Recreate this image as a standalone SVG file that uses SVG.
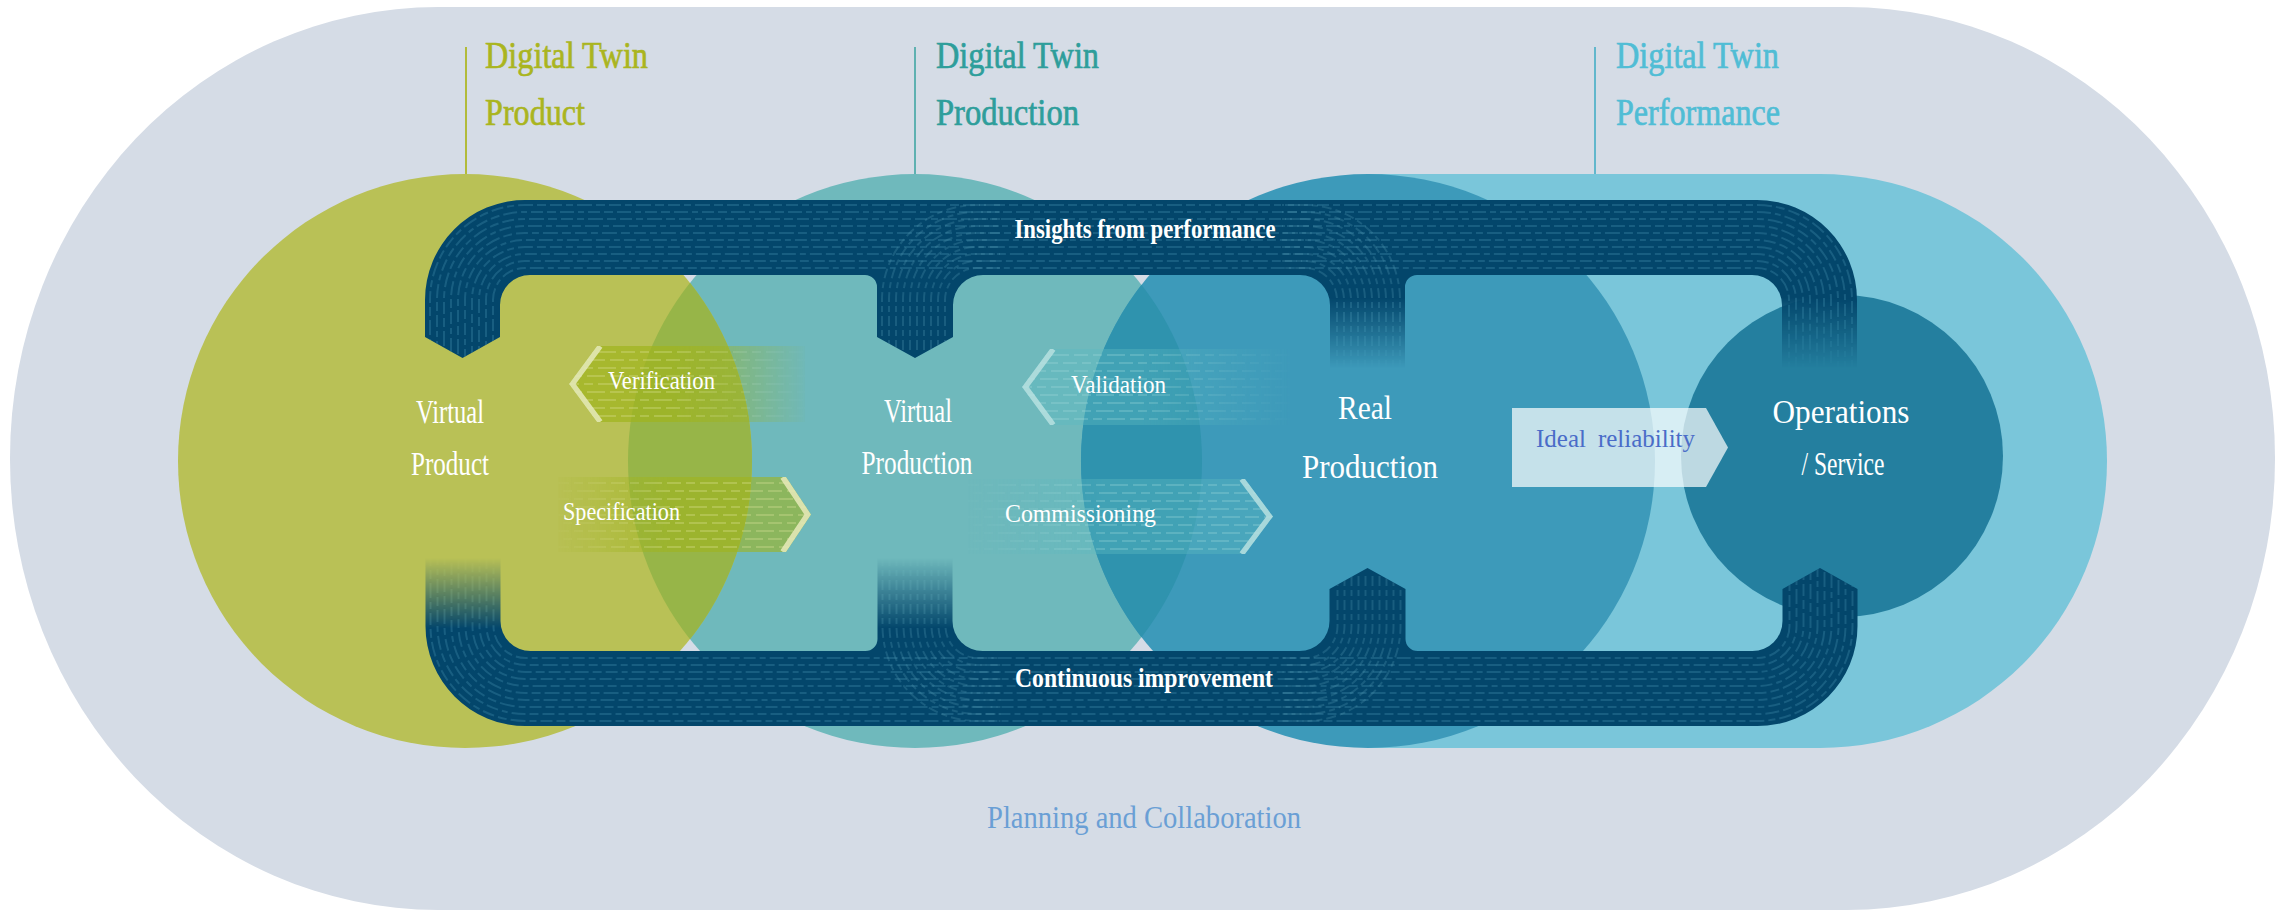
<svg xmlns="http://www.w3.org/2000/svg" width="2282" height="913" viewBox="0 0 2282 913">
<style>
.f{font-family:"Liberation Serif","DejaVu Serif",serif}
.dt{font-size:38px;stroke-width:0.7px}
.nd{font-size:33px;fill:#fff}
.bd{font-size:28px;fill:#fff;font-weight:bold}
.bn{font-size:26px;fill:#fff}
.tex{fill:none;stroke:#3c86a5;stroke-width:2;stroke-opacity:0.38}
.ra{stroke-dasharray:12 4 7 4 15 4 9 4}
.rb{stroke-dasharray:9 4 14 4 6 4 12 4}
.gh{fill:none;stroke:#5aa2bd;stroke-width:2;stroke-opacity:0.25;stroke-dasharray:10 4 6 4}
.btg{fill:none;stroke:#dfe69c;stroke-width:2;stroke-opacity:0.3;stroke-dasharray:14 5 9 5 18 5}
.btt{fill:none;stroke:#a6dcdc;stroke-width:2;stroke-opacity:0.28;stroke-dasharray:14 5 9 5 18 5}
.edg{fill:none;stroke:#e3e8b6;stroke-width:6;stroke-opacity:0.9}
.edt{fill:none;stroke:#b9e0e1;stroke-width:6;stroke-opacity:0.85}
</style>
<defs>
<linearGradient id="vFade" x1="0" y1="0" x2="0" y2="1"><stop offset="0" stop-color="#fff"/><stop offset="1" stop-color="#fff" stop-opacity="0"/></linearGradient>
<linearGradient id="fadeR" x1="0" y1="0" x2="1" y2="0"><stop offset="0.45" stop-color="#fff"/><stop offset="1" stop-color="#fff" stop-opacity="0"/></linearGradient>
<linearGradient id="fadeL" x1="0" y1="0" x2="1" y2="0"><stop offset="0" stop-color="#fff" stop-opacity="0"/><stop offset="0.45" stop-color="#fff"/></linearGradient>
<path id="bandPath" d="M425,337 V300 A100,100 0 0 1 525,200 H1757 A100,100 0 0 1 1857,300 V370 H1782 V305 A30,30 0 0 0 1752,275 H1417 A12,12 0 0 0 1405,287 V370 H1330 V305 A30,30 0 0 0 1300,275 H983 A30,30 0 0 0 953,305 V337 L915,358 L877,337 V287 A12,12 0 0 0 865,275 H530 A30,30 0 0 0 500,305 V337 L462.5,358 Z"/>
<clipPath id="bandClip"><use href="#bandPath"/></clipPath>
<mask id="bandMask" maskUnits="userSpaceOnUse" x="0" y="0" width="2282" height="913">
<rect x="0" y="0" width="2282" height="298" fill="#fff"/>
<rect x="0" y="298" width="1320" height="615" fill="#fff"/>
<rect x="1320" y="298" width="560" height="70" fill="url(#vFade)"/>
</mask>
<g id="band" mask="url(#bandMask)">
<use href="#bandPath" fill="#03466b"/>
<g clip-path="url(#bandClip)">
<g class="tex">
<path class="ra" d="M430,362V300A95,95 0 0 1 525,205H1757A95,95 0 0 1 1852,300V370"/>
<path class="rb" style="stroke-dashoffset:6" d="M437,362V300A88,88 0 0 1 525,212H1757A88,88 0 0 1 1845,300V370"/>
<path class="ra" style="stroke-dashoffset:11" d="M444,362V300A81,81 0 0 1 525,219H1757A81,81 0 0 1 1838,300V370"/>
<path class="rb" style="stroke-dashoffset:3" d="M451,362V300A74,74 0 0 1 525,226H1757A74,74 0 0 1 1831,300V370"/>
<path class="ra" style="stroke-dashoffset:19" d="M458,362V300A67,67 0 0 1 525,233H1757A67,67 0 0 1 1824,300V370"/>
<path class="rb" style="stroke-dashoffset:14" d="M465,362V300A60,60 0 0 1 525,240H1757A60,60 0 0 1 1817,300V370"/>
<path class="ra" style="stroke-dashoffset:7" d="M472,362V300A53,53 0 0 1 525,247H1757A53,53 0 0 1 1810,300V370"/>
<path class="rb" style="stroke-dashoffset:21" d="M479,362V300A46,46 0 0 1 525,254H1757A46,46 0 0 1 1803,300V370"/>
<path class="ra" style="stroke-dashoffset:2" d="M486,362V300A39,39 0 0 1 525,261H1757A39,39 0 0 1 1796,300V370"/>
<path class="rb" style="stroke-dashoffset:10" d="M493,362V300A32,32 0 0 1 525,268H1757A32,32 0 0 1 1789,300V370"/>
</g>
<g class="gh">
<path d="M882,350V300A95,95 0 0 1 977,205H1000"/>
<path d="M889,350V300A88,88 0 0 1 977,212H1000"/>
<path d="M896,350V300A81,81 0 0 1 977,219H1000"/>
<path d="M903,350V300A74,74 0 0 1 977,226H1000"/>
<path d="M910,350V300A67,67 0 0 1 977,233H1000"/>
<path d="M917,350V300A60,60 0 0 1 977,240H1000"/>
<path d="M924,350V300A53,53 0 0 1 977,247H1000"/>
<path d="M931,350V300A46,46 0 0 1 977,254H1000"/>
<path d="M938,350V300A39,39 0 0 1 977,261H1000"/>
<path d="M945,350V300A32,32 0 0 1 977,268H1000"/>
<path d="M1400,370V300A95,95 0 0 0 1305,205H1282"/>
<path d="M1393,370V300A88,88 0 0 0 1305,212H1282"/>
<path d="M1386,370V300A81,81 0 0 0 1305,219H1282"/>
<path d="M1379,370V300A74,74 0 0 0 1305,226H1282"/>
<path d="M1372,370V300A67,67 0 0 0 1305,233H1282"/>
<path d="M1365,370V300A60,60 0 0 0 1305,240H1282"/>
<path d="M1358,370V300A53,53 0 0 0 1305,247H1282"/>
<path d="M1351,370V300A46,46 0 0 0 1305,254H1282"/>
<path d="M1344,370V300A39,39 0 0 0 1305,261H1282"/>
<path d="M1337,370V300A32,32 0 0 0 1305,268H1282"/>
</g>
</g>
</g>
<clipPath id="cVer"><polygon points="597,346 805,346 805,422 597,422 569,384"/></clipPath>
<clipPath id="cSpe"><polygon points="558,477 786,477 811,514.5 786,552 558,552"/></clipPath>
<clipPath id="cVal"><polygon points="1050,349 1290,349 1290,425 1050,425 1022,387"/></clipPath>
<clipPath id="cCom"><polygon points="968,479 1245,479 1273,516.5 1245,554 968,554"/></clipPath>
<mask id="mVer" maskUnits="userSpaceOnUse" x="560" y="340" width="250" height="90"><rect x="560" y="340" width="250" height="90" fill="url(#fadeR)"/></mask>
<mask id="mSpe" maskUnits="userSpaceOnUse" x="550" y="470" width="265" height="90"><rect x="550" y="470" width="265" height="90" fill="url(#fadeL)"/></mask>
<mask id="mVal" maskUnits="userSpaceOnUse" x="1015" y="340" width="280" height="90"><rect x="1015" y="340" width="280" height="90" fill="url(#fadeR)"/></mask>
<mask id="mCom" maskUnits="userSpaceOnUse" x="960" y="470" width="320" height="90"><rect x="960" y="470" width="320" height="90" fill="url(#fadeL)"/></mask>
</defs>

<g id="background">
<rect x="10" y="7" width="2265" height="903" rx="428" ry="451" fill="#d5dce6"/>
</g>

<g id="node-performance-field">
<path d="M1368,174 H1820 A287,287 0 0 1 1820,748 H1368 Z" fill="#7ac6da"/>
</g>
<g id="node-virtual-production">
<circle cx="915" cy="461" r="287" fill="#6fb9bc"/>
</g>
<g id="node-virtual-product">
<circle cx="465" cy="461" r="287" fill="#b9c156"/>
</g>
<g id="node-real-production">
<circle cx="1368" cy="461" r="287" fill="#3d9aba"/>
</g>
<g id="overlaps">
<path d="M690,282.8 A287,287 0 0 1 690,639.2 A287,287 0 0 1 690,282.8 Z" fill="#97b548"/>
<path d="M1141.5,284.7 A287,287 0 0 1 1141.5,637.3 A287,287 0 0 1 1141.5,284.7 Z" fill="#2f93ae"/>
</g>
<g id="node-operations">
<circle cx="1842" cy="456" r="161" fill="#247f9f"/>
</g>

<g id="label-dt-product">
<line x1="466" y1="47" x2="466" y2="174" stroke="#b2bb3a" stroke-width="2"/>
<text class="f dt" x="485" y="68" fill="#aab51f" stroke="#aab51f" textLength="163" lengthAdjust="spacingAndGlyphs">Digital Twin</text>
<text class="f dt" x="485" y="125" fill="#aab51f" stroke="#aab51f" textLength="100" lengthAdjust="spacingAndGlyphs">Product</text>
</g>
<g id="label-dt-production">
<line x1="915" y1="47" x2="915" y2="174" stroke="#5fb1b1" stroke-width="2"/>
<text class="f dt" x="936" y="68" fill="#2e9e9b" stroke="#2e9e9b" textLength="163" lengthAdjust="spacingAndGlyphs">Digital Twin</text>
<text class="f dt" x="936" y="125" fill="#2e9e9b" stroke="#2e9e9b" textLength="143" lengthAdjust="spacingAndGlyphs">Production</text>
</g>
<g id="label-dt-performance">
<line x1="1595" y1="47" x2="1595" y2="174" stroke="#62b7cc" stroke-width="2"/>
<text class="f dt" x="1616" y="68" fill="#50bdd5" stroke="#50bdd5" textLength="163" lengthAdjust="spacingAndGlyphs">Digital Twin</text>
<text class="f dt" x="1616" y="125" fill="#50bdd5" stroke="#50bdd5" textLength="164" lengthAdjust="spacingAndGlyphs">Performance</text>
</g>

<g id="connectors">
<use href="#band"/>
<use href="#band" transform="rotate(180 1141.25 463)"/>
<text class="f bd" x="1145" y="238" text-anchor="middle" textLength="261" lengthAdjust="spacingAndGlyphs">Insights from performance</text>
<text class="f bd" x="1144" y="687" text-anchor="middle" textLength="258" lengthAdjust="spacingAndGlyphs">Continuous improvement</text>

<g id="arrow-verification">
<g mask="url(#mVer)">
<polygon points="597,346 805,346 805,422 597,422 569,384" fill="#a0b41e" fill-opacity="0.7"/>
<g clip-path="url(#cVer)">
<path class="btg" d="M565,352H810M565,368H810M565,384H810M565,400H810M565,416H810"/>
<path class="btg" style="stroke-dashoffset:11" d="M565,360H810M565,376H810M565,392H810M565,408H810"/>
<polyline class="edg" points="600,346 572,384 600,422"/>
</g>
</g>
<text class="f bn" x="608" y="389" textLength="107" lengthAdjust="spacingAndGlyphs">Verification</text>
</g>

<g id="arrow-specification">
<g mask="url(#mSpe)">
<polygon points="558,477 786,477 811,514.5 786,552 558,552" fill="#a0b41e" fill-opacity="0.6"/>
<g clip-path="url(#cSpe)">
<path class="btg" d="M555,483H815M555,499H815M555,515H815M555,531H815M555,547H815"/>
<path class="btg" style="stroke-dashoffset:11" d="M555,491H815M555,507H815M555,523H815M555,539H815"/>
<polyline class="edg" points="783,477 808,514.5 783,552"/>
</g>
</g>
<text class="f bn" x="563" y="520" textLength="117" lengthAdjust="spacingAndGlyphs">Specification</text>
</g>

<g id="arrow-validation">
<g mask="url(#mVal)">
<polygon points="1050,349 1290,349 1290,425 1050,425 1022,387" fill="#5cbac0" fill-opacity="0.4"/>
<g clip-path="url(#cVal)">
<path class="btt" d="M1018,355H1295M1018,371H1295M1018,387H1295M1018,403H1295M1018,419H1295"/>
<path class="btt" style="stroke-dashoffset:11" d="M1018,363H1295M1018,379H1295M1018,395H1295M1018,411H1295"/>
<polyline class="edt" points="1053,349 1025,387 1053,425"/>
</g>
</g>
<text class="f bn" x="1071" y="393" textLength="95" lengthAdjust="spacingAndGlyphs">Validation</text>
</g>

<g id="arrow-commissioning">
<g mask="url(#mCom)">
<polygon points="968,479 1245,479 1273,516.5 1245,554 968,554" fill="#5cbac0" fill-opacity="0.4"/>
<g clip-path="url(#cCom)">
<path class="btt" d="M965,485H1280M965,501H1280M965,517H1280M965,533H1280M965,549H1280"/>
<path class="btt" style="stroke-dashoffset:11" d="M965,493H1280M965,509H1280M965,525H1280M965,541H1280"/>
<polyline class="edt" points="1242,479 1270,516.5 1242,554"/>
</g>
</g>
<text class="f bn" x="1005" y="522" textLength="151" lengthAdjust="spacingAndGlyphs">Commissioning</text>
</g>

<g id="arrow-ideal-reliability">
<polygon points="1512,408 1706,408 1728,447.5 1706,487 1512,487" fill="#fff" fill-opacity="0.7"/>
<text class="f" x="1536" y="447" font-size="26" fill="#4a6cc8" word-spacing="6" textLength="159" lengthAdjust="spacingAndGlyphs">Ideal reliability</text>
</g>
</g>

<g id="node-text">
<text class="f nd" x="450" y="423" text-anchor="middle" textLength="68" lengthAdjust="spacingAndGlyphs">Virtual</text>
<text class="f nd" x="450" y="475" text-anchor="middle" textLength="78" lengthAdjust="spacingAndGlyphs">Product</text>
<text class="f nd" x="918" y="422" text-anchor="middle" textLength="68" lengthAdjust="spacingAndGlyphs">Virtual</text>
<text class="f nd" x="917" y="474" text-anchor="middle" textLength="111" lengthAdjust="spacingAndGlyphs">Production</text>
<text class="f nd" x="1365" y="419" text-anchor="middle" font-size="35" textLength="54" lengthAdjust="spacingAndGlyphs">Real</text>
<text class="f nd" x="1370" y="478" text-anchor="middle" font-size="35" textLength="136" lengthAdjust="spacingAndGlyphs">Production</text>
<text class="f nd" x="1841" y="423" text-anchor="middle" font-size="35" textLength="137" lengthAdjust="spacingAndGlyphs">Operations</text>
<text class="f nd" x="1843" y="475" text-anchor="middle" font-size="35" textLength="83" lengthAdjust="spacingAndGlyphs">/ Service</text>
</g>

<g id="label-planning">
<text class="f" x="1144" y="828" text-anchor="middle" font-size="32" fill="#6a9fd5" textLength="314" lengthAdjust="spacingAndGlyphs">Planning and Collaboration</text>
</g>
</svg>
